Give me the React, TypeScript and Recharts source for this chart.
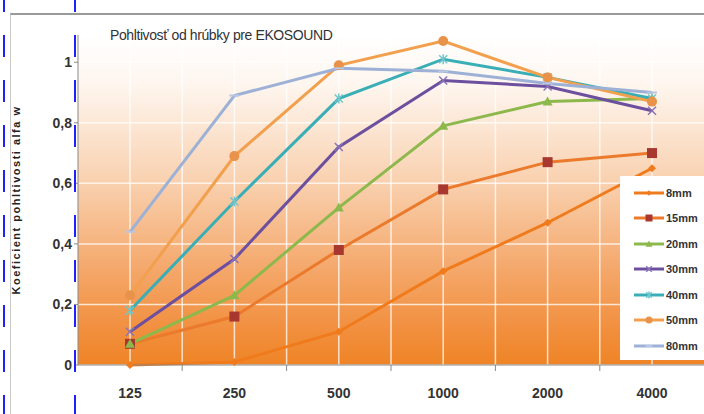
import React from "react";
import {
  LineChart,
  Line,
  XAxis,
  YAxis,
  CartesianGrid,
} from "recharts";

const categories = ["125", "250", "500", "1000", "2000", "4000"];
const mm8 = [0, 0.01, 0.11, 0.31, 0.47, 0.65];
const mm15 = [0.07, 0.16, 0.38, 0.58, 0.67, 0.7];
const mm20 = [0.07, 0.23, 0.52, 0.79, 0.87, 0.88];
const mm30 = [0.11, 0.35, 0.72, 0.94, 0.92, 0.84];
const mm40 = [0.18, 0.54, 0.88, 1.01, 0.95, 0.88];
const mm50 = [0.23, 0.69, 0.99, 1.07, 0.95, 0.87];
const mm80 = [0.44, 0.89, 0.98, 0.97, 0.93, 0.9];
const yTicks = [0, 0.2, 0.4, 0.6, 0.8, 1];

const data = categories.map((f, i) => ({
  f,
  mm8: mm8[i],
  mm15: mm15[i],
  mm20: mm20[i],
  mm30: mm30[i],
  mm40: mm40[i],
  mm50: mm50[i],
  mm80: mm80[i],
}));

type Shape = "diamond" | "square" | "triangle" | "x" | "star" | "circle" | "dash";

const series: { key: string; name: string; color: string; marker: string; shape: Shape }[] = [
  { key: "mm8", name: "8mm", color: "#F07B1C", marker: "#F07B1C", shape: "diamond" },
  { key: "mm15", name: "15mm", color: "#EC7A2C", marker: "#A8382F", shape: "square" },
  { key: "mm20", name: "20mm", color: "#8CB84C", marker: "#8CB84C", shape: "triangle" },
  { key: "mm30", name: "30mm", color: "#6C4F9E", marker: "#8A74B8", shape: "x" },
  { key: "mm40", name: "40mm", color: "#39AEB6", marker: "#6FC6CC", shape: "star" },
  { key: "mm50", name: "50mm", color: "#F2A04E", marker: "#E8924A", shape: "circle" },
  { key: "mm80", name: "80mm", color: "#9DB1D6", marker: "#B7C6E2", shape: "dash" },
];

function marker(shape: Shape, color: string, cx: number, cy: number, s = 1) {
  switch (shape) {
    case "square":
      return <rect x={cx - 5 * s} y={cy - 5 * s} width={10 * s} height={10 * s} fill={color} />;
    case "diamond":
      return <path d={`M${cx},${cy - 4 * s}L${cx + 4 * s},${cy}L${cx},${cy + 4 * s}L${cx - 4 * s},${cy}Z`} fill={color} />;
    case "triangle":
      return <path d={`M${cx},${cy - 5 * s}L${cx + 5 * s},${cy + 4 * s}L${cx - 5 * s},${cy + 4 * s}Z`} fill={color} />;
    case "x":
      return (
        <path
          d={`M${cx - 4 * s},${cy - 4 * s}L${cx + 4 * s},${cy + 4 * s}M${cx + 4 * s},${cy - 4 * s}L${cx - 4 * s},${cy + 4 * s}`}
          stroke={color}
          strokeWidth={1.5}
        />
      );
    case "star":
      return (
        <path
          d={`M${cx - 4 * s},${cy - 4 * s}L${cx + 4 * s},${cy + 4 * s}M${cx + 4 * s},${cy - 4 * s}L${cx - 4 * s},${cy + 4 * s}M${cx},${cy - 5 * s}L${cx},${cy + 5 * s}`}
          stroke={color}
          strokeWidth={1.5}
        />
      );
    case "circle":
      return <circle cx={cx} cy={cy} r={5 * s} fill={color} />;
    case "dash":
      return <path d={`M${cx - 5 * s},${cy}L${cx + 5 * s},${cy}`} stroke={color} strokeWidth={2} />;
  }
}

const makeDot = (shape: Shape, color: string) => (props: any) => {
  const { cx, cy, index } = props;
  if (cx == null || cy == null) return <g key={index} />;
  return <g key={index}>{marker(shape, color, cx, cy)}</g>;
};

const BAND_PAD = 52;

const XTick = (props: any) => {
  const { x, y, payload, index } = props;
  const step = 104.4;
  return (
    <g>
      <text x={x} y={y + 25} textAnchor="middle" fontSize={14} fontWeight="bold" fill="#333">
        {payload.value}
      </text>
      {index < categories.length - 1 && (
        <line x1={x + step / 2} x2={x + step / 2} y1={y - 8} y2={y - 2} stroke="#888" />
      )}
    </g>
  );
};

const LegendBox = () => (
  <div style={{ position: "absolute", left: 620, top: 176, background: "#fff", width: 90, height: 184, paddingTop: 4, boxSizing: "border-box" }}>
    {series.map((s) => (
      <div key={s.key} style={{ display: "flex", alignItems: "center", height: 25.5 }}>
        <svg width={46} height={12}>
          <line x1={14} x2={44} y1={6} y2={6} stroke={s.color} strokeWidth={3} />
          {marker(s.shape, s.marker, 29, 6, 0.7)}
        </svg>
        <span style={{ fontSize: 11, fontWeight: "bold", color: "#333", fontFamily: "Liberation Sans Narrow, Liberation Sans, sans-serif" }}>
          {s.name}
        </span>
      </div>
    ))}
  </div>
);

export default function App() {
  return (
    <div style={{ position: "absolute", left: 0, top: 0, width: 704, height: 414, background: "#fff", overflow: "hidden", fontFamily: "Liberation Sans, Arial, sans-serif" }}>
      <div style={{ position: "absolute", left: 10, top: 13, right: 0, bottom: 0, borderTop: "2px solid #9a9a9a", borderLeft: "1px solid #c8c8c8" }} />
      <div style={{ position: "absolute", left: 0, top: 0 }}>
        <LineChart width={704} height={414} data={data} margin={{ top: 35, right: 0, bottom: 19, left: 0 }}>
          <defs>
            <linearGradient id="bgGrad" x1="0" y1="0" x2="0" y2="1">
              <stop offset="0%" stopColor="#FFFFFF" />
              <stop offset="15%" stopColor="#FEF6EF" />
              <stop offset="45%" stopColor="#F9D0AE" />
              <stop offset="72%" stopColor="#F4A668" />
              <stop offset="90%" stopColor="#F18E3C" />
              <stop offset="100%" stopColor="#EF8426" />
            </linearGradient>
          </defs>
          <CartesianGrid
            fill="url(#bgGrad)"
            stroke="#ffffff"
            strokeOpacity={0.75}
            strokeWidth={1.5}
            verticalCoordinatesGenerator={({ offset }: any) => {
              const step = (offset.width - 2 * BAND_PAD) / (categories.length - 1);
              const xs: number[] = [];
              for (let i = 0; i < categories.length; i++) {
                const c = offset.left + BAND_PAD + i * step;
                xs.push(c);
                if (i < categories.length - 1) xs.push(c + step / 2);
              }
              return xs;
            }}
          />
          <XAxis
            dataKey="f"
            padding={{ left: BAND_PAD, right: BAND_PAD }}
            stroke="#888"
            tickLine={false}
            tick={<XTick />}
            interval={0}
          />
          <YAxis
            width={78}
            domain={[0, 1.09]}
            ticks={yTicks}
            stroke="#888"
            tickSize={4}
            tick={{ fontSize: 14, fontWeight: "bold", fill: "#333" }}
            tickFormatter={(v) => String(v).replace(".", ",")}
            label={{
              value: "Koeficient pohltivosti alfa w",
              angle: -90,
              position: "insideLeft",
              offset: 16,
              style: { fontSize: 11, fontWeight: "bold", fill: "#222", textAnchor: "middle", letterSpacing: 1.5 },
            }}
          />
          {series.map((s) => (
            <Line
              key={s.key}
              dataKey={s.key}
              name={s.name}
              stroke={s.color}
              strokeWidth={3}
              dot={makeDot(s.shape, s.marker)}
              activeDot={false}
              isAnimationActive={false}
            />
          ))}
        </LineChart>
      </div>
      <LegendBox />
      <div style={{ position: "absolute", left: 110, top: 27, fontSize: 14, color: "#333", letterSpacing: -0.4 }}>
        Pohltivosť od hrúbky pre EKOSOUND
      </div>
      <svg width={704} height={414} style={{ position: "absolute", left: 0, top: 0, pointerEvents: "none" }}>
        <line x1={4} x2={4} y1={0} y2={414} stroke="#2020ff" strokeWidth={2} strokeDasharray="22 23" strokeDashoffset={10} />
        <line x1={75} x2={75} y1={0} y2={414} stroke="#2020ff" strokeWidth={2} strokeDasharray="22 23" strokeDashoffset={10} />
      </svg>
    </div>
  );
}
